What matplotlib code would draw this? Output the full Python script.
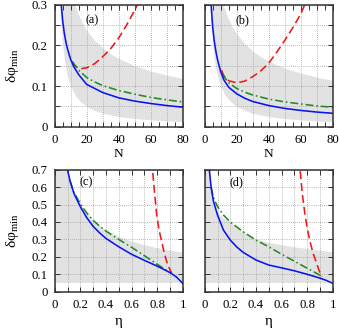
import matplotlib
matplotlib.use("Agg")
import matplotlib.pyplot as plt
from matplotlib.ticker import MultipleLocator, FuncFormatter

plt.rcParams['font.family'] = ['Liberation Serif', 'DejaVu Serif']
plt.rcParams['mathtext.fontset'] = 'custom'
plt.rcParams['mathtext.rm'] = 'Liberation Serif'
plt.rcParams['mathtext.it'] = 'Liberation Serif:italic'

# ---------------- data: panels (a), (b) vs N ----------------
band_N = [3, 3.5, 4, 4.5, 5, 6, 7, 8, 9, 10, 12, 14, 17, 20, 25, 30, 35, 40, 50, 60, 70, 80]
band_low_N = [0.333, 0.286, 0.25, 0.222, 0.2, 0.167, 0.143, 0.125, 0.111, 0.1, 0.083, 0.071,
              0.059, 0.05, 0.04, 0.033, 0.029, 0.025, 0.02, 0.017, 0.014, 0.0125]
band_up_a = [0.612, 0.567, 0.53, 0.5, 0.474, 0.433, 0.401, 0.375, 0.353, 0.335, 0.306, 0.283,
             0.257, 0.237, 0.212, 0.194, 0.179, 0.168, 0.150, 0.137, 0.127, 0.119]
band_up_b = [0.589, 0.545, 0.51, 0.481, 0.456, 0.416, 0.386, 0.361, 0.34, 0.323, 0.294, 0.273,
             0.247, 0.228, 0.204, 0.186, 0.172, 0.161, 0.144, 0.132, 0.122, 0.114]

blue_N_a = [3.5, 4, 5, 6, 7, 8, 10, 12, 15, 20, 25, 30, 40, 50, 60, 70, 80]
blue_a = [0.34, 0.303, 0.26, 0.23, 0.208, 0.191, 0.165, 0.147, 0.128, 0.104, 0.094, 0.084,
          0.071, 0.063, 0.057, 0.052, 0.048]
green_N_a = [11, 15, 20, 25, 30, 40, 50, 60, 70, 80]
green_a = [0.160, 0.139, 0.121, 0.110, 0.101, 0.089, 0.080, 0.072, 0.066, 0.061]
red_N_a = [11, 12, 14, 17, 20, 25, 30, 35, 40, 45, 50, 52]
red_a = [0.160, 0.152, 0.146, 0.143, 0.145, 0.155, 0.172, 0.192, 0.218, 0.250, 0.287, 0.302]

blue_N_b = [3.5, 4, 5, 6, 7, 8, 10, 12, 15, 20, 25, 30, 40, 50, 60, 70, 80]
blue_b = [0.34, 0.30, 0.245, 0.21, 0.185, 0.165, 0.135, 0.115, 0.097, 0.081, 0.070, 0.062,
          0.052, 0.045, 0.040, 0.036, 0.033]
green_N_b = [10.8, 15, 20, 25, 30, 40, 50, 60, 70, 80]
green_b = [0.130, 0.108, 0.094, 0.085, 0.078, 0.068, 0.061, 0.056, 0.051, 0.048]
red_N_b = [10.5, 12, 15, 20, 25, 30, 35, 40, 45, 50, 55, 60, 62, 63]
red_b = [0.139, 0.125, 0.113, 0.108, 0.112, 0.123, 0.137, 0.156, 0.183, 0.212, 0.243, 0.277,
         0.295, 0.305]

# ---------------- data: panels (c), (d) vs eta ----------------
band_eta = [0.0, 0.02, 0.05, 0.08, 0.1, 0.12, 0.15, 0.2, 0.25, 0.3, 0.4, 0.5, 0.6, 0.7, 0.8, 0.9, 1.0]
band_up_c = [5.0, 1.581, 1.0, 0.791, 0.707, 0.645, 0.577, 0.5, 0.447, 0.408, 0.354, 0.316,
             0.289, 0.267, 0.25, 0.236, 0.224]
band_up_d = [5.0, 1.2, 0.62, 0.50, 0.46, 0.44, 0.42, 0.40, 0.37, 0.345, 0.30, 0.28,
             0.267, 0.255, 0.245, 0.235, 0.226]
band_low_eta = 0.05

blue_eta_c = [0.085, 0.1, 0.12, 0.15, 0.2, 0.25, 0.3, 0.35, 0.4, 0.5, 0.6, 0.7, 0.8, 0.9, 0.95, 1.0]
blue_c = [0.76, 0.70, 0.635, 0.565, 0.488, 0.425, 0.375, 0.338, 0.306, 0.258, 0.215, 0.18,
          0.147, 0.11, 0.085, 0.048]
green_eta_c = [0.12, 0.15, 0.2, 0.25, 0.3, 0.35, 0.4, 0.5, 0.6, 0.7, 0.8, 0.9, 0.914]
green_c = [0.635, 0.57, 0.505, 0.452, 0.41, 0.377, 0.348, 0.300, 0.255, 0.207, 0.158, 0.110, 0.106]
red_eta_c = [0.758, 0.764, 0.78, 0.797, 0.815, 0.836, 0.855, 0.875, 0.895, 0.914]
red_c = [0.75, 0.70, 0.57, 0.44, 0.355, 0.287, 0.225, 0.172, 0.135, 0.106]

blue_eta_d = [0.03, 0.036, 0.05, 0.068, 0.1, 0.146, 0.2, 0.25, 0.3, 0.4, 0.5, 0.6, 0.7, 0.8, 0.9, 0.95, 1.0]
blue_d = [0.78, 0.70, 0.60, 0.52, 0.44, 0.354, 0.296, 0.257, 0.226, 0.182, 0.153, 0.137, 0.120,
          0.100, 0.078, 0.065, 0.048]
green_eta_d = [0.05, 0.068, 0.1, 0.146, 0.2, 0.3, 0.4, 0.5, 0.6, 0.7, 0.8, 0.9, 0.914]
green_d = [0.60, 0.54, 0.488, 0.44, 0.40, 0.344, 0.296, 0.258, 0.215, 0.175, 0.135, 0.095, 0.088]
red_eta_d = [0.738, 0.745, 0.762, 0.784, 0.803, 0.823, 0.845, 0.87, 0.892, 0.914]
red_d = [0.76, 0.70, 0.565, 0.44, 0.355, 0.287, 0.225, 0.172, 0.125, 0.086]

panel_labels = ['(a)', '(b)', '(c)', '(d)']
ylabel_text = r'δφ$_{\mathrm{min}}$'

# ---------------- styling ----------------
BLUE = '#0a14f0'
RED = '#f01818'
GREEN = '#228b22'
GRAY = '#e2e2e2'
SPINE = '#333333'

W, H = 339, 331
fig = plt.figure(figsize=(W / 100, H / 100), dpi=100)

def px_axes(x0, y0, x1, y1):
    return fig.add_axes([x0 / W, 1 - y1 / H, (x1 - x0) / W, (y1 - y0) / H])

ax_a = px_axes(54.7, 4.7, 182.7, 126.7)
ax_b = px_axes(204.7, 4.7, 332.7, 126.7)
ax_c = px_axes(54.7, 169.7, 182.7, 291.7)
ax_d = px_axes(204.7, 169.7, 332.7, 291.7)

fs = 9.2

def fmt_every(step):
    def f(v, pos):
        k = round(v / step)
        if abs(v - k * step) < 1e-9:
            return '%g' % round(v, 6)
        return ''
    return FuncFormatter(f)

def style(ax, xmaj, xminor, xlabstep, ymaj, yminor, ylabstep, show_ylabels):
    ax.xaxis.set_major_locator(MultipleLocator(xmaj))
    ax.xaxis.set_minor_locator(MultipleLocator(xminor))
    ax.yaxis.set_major_locator(MultipleLocator(ymaj))
    ax.yaxis.set_minor_locator(MultipleLocator(yminor))
    ax.xaxis.set_major_formatter(fmt_every(xlabstep))
    ax.yaxis.set_major_formatter(fmt_every(ylabstep))
    ax.tick_params(which='both', direction='in', top=True, right=True, length=3.5,
                   width=0.7, colors=SPINE, labelcolor='black', labelsize=fs)
    ax.tick_params(axis='x', pad=5)
    ax.tick_params(axis='y', pad=5)
    if not show_ylabels:
        ax.tick_params(labelleft=False)
    ax.grid(True, which='major', color='#a0a0a0', linestyle=(0, (1, 1.5)), linewidth=0.6)
    ax.set_axisbelow(False)
    for s in ax.spines.values():
        s.set_color(SPINE)
        s.set_linewidth(1.1)
        s.set_zorder(5)

lw = 1.15
dash = (0, (5, 2.5))
dashdot = (0, (5, 1.8, 1, 1.8))

# top panels
for ax, bu, bN, bv, gN, gv, rN, rv, lab, showy in [
        (ax_a, band_up_a, blue_N_a, blue_a, green_N_a, green_a, red_N_a, red_a, panel_labels[0], True),
        (ax_b, band_up_b, blue_N_b, blue_b, green_N_b, green_b, red_N_b, red_b, panel_labels[1], False)]:
    ax.fill_between(band_N, band_low_N, bu, color=GRAY, linewidth=0, zorder=0)
    ax.plot(rN, rv, color=RED, lw=lw, ls=dash, zorder=3)
    ax.plot(gN, gv, color=GREEN, lw=lw, ls=dashdot, zorder=3)
    ax.plot(bN, bv, color=BLUE, lw=lw, zorder=4)
    ax.set_xlim(0, 80)
    ax.set_ylim(0, 0.3)
    style(ax, 10, 5, 20, 0.05, 0.05, 0.1, showy)
    ax.set_xlabel('N', fontsize=fs + 0.5, labelpad=1.5)
    ax.text(23.7, 0.262, lab, fontsize=fs - 0.5, ha='center', va='center', zorder=6)
ax_a.set_ylabel(ylabel_text, fontsize=11)
ax_a.yaxis.set_label_coords(-0.265, 0.5)

# bottom panels
for ax, bu, bE, bv, gE, gv, rE, rv, lab, showy in [
        (ax_c, band_up_c, blue_eta_c, blue_c, green_eta_c, green_c, red_eta_c, red_c, panel_labels[2], True),
        (ax_d, band_up_d, blue_eta_d, blue_d, green_eta_d, green_d, red_eta_d, red_d, panel_labels[3], False)]:
    ax.fill_between(band_eta, band_low_eta, bu, color=GRAY, linewidth=0, zorder=0)
    ax.plot(rE, rv, color=RED, lw=lw, ls=dash, zorder=3)
    ax.plot(gE, gv, color=GREEN, lw=lw, ls=dashdot, zorder=3)
    ax.plot(bE, bv, color=BLUE, lw=lw, zorder=4)
    ax.set_xlim(0, 1)
    ax.set_ylim(0, 0.7)
    style(ax, 0.1, 0.1, 0.2, 0.1, 0.1, 0.1, showy)
    ax.set_xlabel('η', fontsize=fs + 1.5, labelpad=3)
    ax.text(0.245, 0.63, lab, fontsize=fs - 0.5, ha='center', va='center', zorder=6)
ax_c.set_ylabel(ylabel_text, fontsize=11)
ax_c.yaxis.set_label_coords(-0.265, 0.5)

fig.savefig('out.png', dpi=100)
